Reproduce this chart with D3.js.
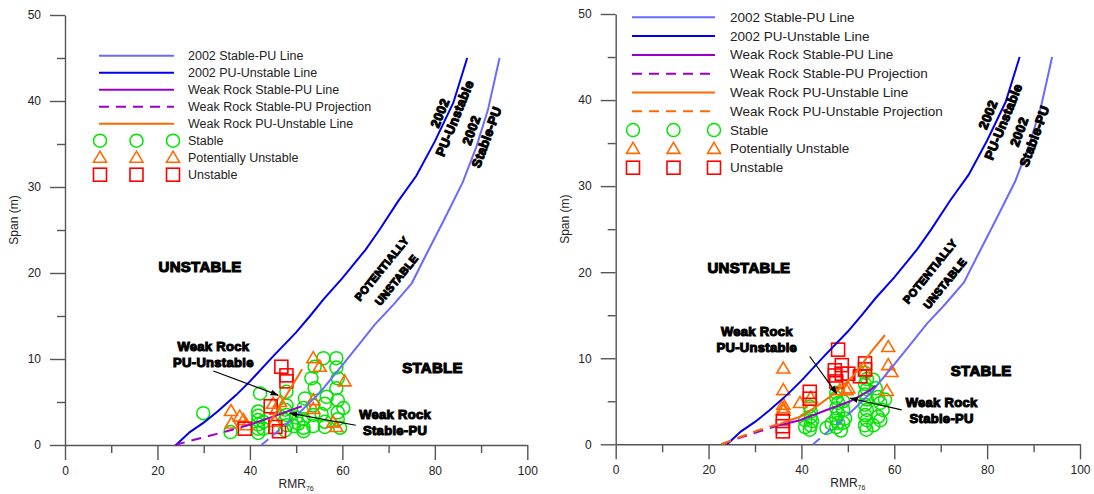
<!DOCTYPE html>
<html><head><meta charset="utf-8">
<script src="https://cdn.jsdelivr.net/npm/d3@7"></script>
<style>
body{margin:0;background:#fff}
svg{display:block}
text{font-family:"Liberation Sans",Arial,sans-serif}
</style>
</head><body>
<svg id="c" width="1094" height="494"></svg>
<script>
// ---------- data ----------
const xMajorTicks = [0,20,40,60,80,100];
const xMinorTicks = [10,30,50,70,90];
const yMajorTicks = [0,10,20,30,40,50];
const yMinorTicks = [5,15,25,35,45];

// 2002 design lines (RMR76, span m)
const pu2002 = [[24,0],[27,1.5],[30,2.6],[33,3.9],[37,5.8],[40,7.4],[45,10.3],[50,13.1],[53,15],[56,17],[60,19.4],[65,22.7],[68,25],[72,28.3],[76,31.3],[80,35.3],[84,39.8],[87,45]];
const sp2002Proj = [[42.5,0],[46,1.6],[50,3.4]];
const sp2002 = [[50,3.4],[55,6],[60,9.3],[63,11.3],[67,14],[71,16.3],[75,18.8],[78,22],[82,26.2],[86,30.5],[89,34.7],[91.5,39],[94,45]];

// Left chart weak rock lines
const leftWrSpProj = [[23.8,0],[30,0.9],[35,1.6],[39.6,2.3]];
const leftWrSp = [[39.6,2.3],[45,3.3],[51.2,4.5]];
const leftWrPu = [[44.5,2.8],[51.3,8.8]];

// Right chart weak rock lines
const rightWrSpProj = [[22.8,0],[27,0.8],[31,1.5],[35.4,2.25]];
const rightWrSp = [[35.4,2.25],[39.7,2.8],[45,3.9],[50.5,5],[54.8,6.3],[56,6.8]];
const rightWrPuProj = [[22.8,0],[27,0.9],[31,1.7],[35.4,2.4]];
const rightWrPu = [[35.4,2.4],[39.7,3.2],[43,4.3],[47.1,5.9],[51.1,7.9],[55.1,10.8],[58,12.7]];

// Left chart case histories
const leftStable = [[29.9,3.7],[35.8,1.5],[42.2,6.0],[41.8,3.9],[41.8,3.4],[41.8,2.9],[41.8,2.4],[41.8,1.9],[41.8,1.4],[42.9,2.7],[42.9,1.9],
 [47.9,6.2],[47.9,4.6],[47.6,4.1],[47.9,3.5],[47.6,2.9],[47.9,2.3],[47.6,1.7],[49.5,2.2],[50,3.2],
 [51.9,5.4],[51.6,4.3],[51.6,3.0],[51.6,2.0],[51.6,1.6],[50.5,2.5],
 [54,9.1],[53.3,7.75],[54,6.6],[53.7,4.6],[53.7,3.5],[53.7,2.2],
 [55.9,10.1],[56.6,5.6],[56.2,4.8],[55.5,3.6],[56.2,2.7],[56.2,2.1],
 [58.7,10.1],[58.7,9.0],[59,7.75],[58.7,6.6],[59,5.2],[60.2,4.3],[59,3.8],[59,3.0],[59.5,2.0]];
const leftPU = [[35.9,3.95],[37.8,3.3],[38.6,2.9],[39.3,2.3],[36,2.5],[45,4.8],[45.7,4.1],[45.4,2.7],[46.5,5.0],
 [53.7,10.1],[55.1,9.1],[60.5,7.4],[53.7,5.2],[53.7,4.2],[58,2.6],[58.7,2.1]];
const leftUnstable = [[46.8,9.1],[47.9,8.1],[47.9,7.4],[44.5,4.5],[46.3,1.6],[38.9,1.9],[45.5,2.1]];

// Right chart case histories
const rightStable = [[41.8,4.4],[42,3.8],[42,3.2],[42.3,2.7],[42,2.2],[41.8,1.7],[40.8,2.8],[40.8,2.0],
 [47.5,6.0],[47.5,5.4],[47.9,4.8],[47.5,4.2],[47.9,3.6],[47.5,3.0],[47.9,2.5],[47.5,2.0],[45.4,1.9],[46.5,2.4],
 [49,5.0],[49,4.0],[49.4,3.0],[49,2.5],[48.5,1.6],
 [53.7,8.3],[54.1,7.6],[53.7,7.0],[54.1,6.4],[53.7,5.8],[54.1,5.2],[53.7,4.6],[54.1,4.0],[53.7,3.4],[54.1,2.8],[53.7,2.2],[54,1.7],
 [55.5,7.5],[56,6.5],[56.5,5.5],[57,4.8],[57.5,4.0],[56.5,3.2],[57,2.8],[58,5.2],[55.5,2.2]];
const rightPU = [[36.1,8.8],[36.1,6.3],[36.1,4.6],[36.1,4.2],[36.1,3.9],[39.7,4.8],[42,5.4],[48.3,6.3],[49.7,6.3],[50.1,6.5],
 [53.7,8.5],[58.7,11.3],[58.7,9.2],[59.4,8.4],[58.4,6.2]];
const rightUnstable = [[36,2.7],[36,2.1],[36,1.5],[41.8,6.1],[41.8,5.3],[47.9,11.0],[48.7,9.2],[47.2,8.6],[47.2,8.0],[48.7,8.2],
 [50.1,8.2],[53.7,9.4],[53.7,8.7],[52.6,7.9],[47.5,7.3]];

const leftLegendLabels = ["2002 Stable-PU Line","2002 PU-Unstable Line","Weak Rock Stable-PU Line","Weak Rock Stable-PU Projection","Weak Rock PU-Unstable Line"];
const rightLegendLabels = ["2002 Stable-PU Line","2002 PU-Unstable Line","Weak Rock Stable-PU Line","Weak Rock Stable-PU Projection","Weak Rock PU-Unstable Line","Weak Rock PU-Unstable Projection"];
const markerLabels = ["Stable","Potentially Unstable","Unstable"];

// ---------- styles ----------
const C = {
  sp: "#6a6aff", pu: "#0000ee", purple: "#9900cc", orange: "#ff6a00",
  green: "#00e600", red: "#ff0000", tri: "#ff6a00", axis: "#555"
};
const lineStyles = {
  "2002 Stable-PU Line": {c:C.sp, dash:null},
  "2002 PU-Unstable Line": {c:C.pu, dash:null},
  "Weak Rock Stable-PU Line": {c:C.purple, dash:null},
  "Weak Rock Stable-PU Projection": {c:C.purple, dash:"10,7"},
  "Weak Rock PU-Unstable Line": {c:C.orange, dash:null},
  "Weak Rock PU-Unstable Projection": {c:C.orange, dash:"10,7"}
};

const svg = d3.select("#c");
const defs = svg.append("defs");
defs.append("marker").attr("id","arr").attr("viewBox","0 0 10 10").attr("refX",9).attr("refY",5)
  .attr("markerWidth",7).attr("markerHeight",7).attr("orient","auto-start-reverse")
  .append("path").attr("d","M0,1.5 L10,5 L0,8.5 Z").attr("fill","#000");

function drawMarker(g, type, px, py){
  if(type==="circle"){
    g.append("circle").attr("cx",px).attr("cy",py).attr("r",6.5)
      .attr("fill","none").attr("stroke",C.green).attr("stroke-width",1.5);
  } else if(type==="tri"){
    g.append("path").attr("d",`M${px},${py-6.5} L${px+6.5},${py+4.5} L${px-6.5},${py+4.5} Z`)
      .attr("fill","none").attr("stroke",C.tri).attr("stroke-width",1.6);
  } else {
    g.append("rect").attr("x",px-6.5).attr("y",py-6.5).attr("width",13).attr("height",13)
      .attr("fill","none").attr("stroke",C.red).attr("stroke-width",1.6);
  }
}

function boldLabel(g, txt, px, py, size, rot){
  const t = g.append("text").attr("x",px).attr("y",py)
    .attr("text-anchor","middle").attr("dominant-baseline","central")
    .attr("font-weight","bold").attr("font-size",size)
    .attr("stroke","#000").attr("stroke-width",1.1).attr("fill","#000")
    .attr("letter-spacing",0.3)
    .text(txt);
  if(rot) t.attr("transform",`rotate(${rot},${px},${py})`);
  return t;
}

function drawPanel(o){
  const g = svg.append("g");
  const x = d3.scaleLinear().domain([0,100]).range(o.xr);
  const y = d3.scaleLinear().domain([0,50]).range(o.yr);
  const line = d3.line().x(d=>x(d[0])).y(d=>y(d[1]));

  // axes
  const ax = g.append("g").attr("transform",`translate(0,${o.yr[0]})`);
  ax.call(d3.axisBottom(x).tickValues(xMajorTicks).tickSize(15).tickSizeOuter(0).tickPadding(6));
  const axm = g.append("g").attr("transform",`translate(0,${o.yr[0]})`);
  axm.call(d3.axisBottom(x).tickValues(xMinorTicks).tickSize(8).tickFormat(""));
  axm.select(".domain").remove();
  const ay = g.append("g").attr("transform",`translate(${o.xr[0]},0)`);
  ay.call(d3.axisLeft(y).tickValues(yMajorTicks).tickSize(15).tickSizeOuter(0).tickPadding(9));
  const aym = g.append("g").attr("transform",`translate(${o.xr[0]},0)`);
  aym.call(d3.axisLeft(y).tickValues(yMinorTicks).tickSize(8).tickFormat(""));
  aym.select(".domain").remove();
  g.selectAll(".domain, .tick line").attr("stroke",C.axis).attr("stroke-width",1.4);
  g.selectAll(".tick text").attr("font-size",12).attr("fill","#222").attr("font-family","Liberation Sans, Arial, sans-serif");

  // axis titles
  const xt = g.append("text").attr("x",(o.xr[0]+o.xr[1])/2).attr("y",o.yr[0]+43)
    .attr("text-anchor","middle").attr("font-size",12).attr("fill","#222");
  xt.append("tspan").text("RMR");
  xt.append("tspan").text("76").attr("font-size",7).attr("dy",2.5);
  g.append("text").attr("transform",`translate(${o.xr[0]-47},${(o.yr[0]+o.yr[1])/2-10}) rotate(-90)`)
    .attr("text-anchor","middle").attr("font-size",12).attr("fill","#222").text("Span (m)");

  // points
  const pg = g.append("g");
  o.stable.forEach(d=>drawMarker(pg,"circle",x(d[0]),y(d[1])));
  o.pu.forEach(d=>drawMarker(pg,"tri",x(d[0]),y(d[1])));
  o.unstable.forEach(d=>drawMarker(pg,"sq",x(d[0]),y(d[1])));

  // lines
  const L = (data,c,dash)=>{
    const p = g.append("path").datum(data).attr("d",line).attr("fill","none")
      .attr("stroke",c).attr("stroke-width",2);
    if(dash) p.attr("stroke-dasharray",dash);
  };
  L(sp2002Proj,C.sp,"9,6");
  L(sp2002,C.sp);
  L(pu2002,C.pu);
  o.lines.forEach(l=>L(l.data,l.c,l.dash));

  // annotations
  const a = o.ann;
  boldLabel(g,"UNSTABLE",x(a.unst[0]),y(a.unst[1]),15);
  boldLabel(g,"STABLE",x(a.stab[0]),y(a.stab[1]),15);
  boldLabel(g,"POTENTIALLY",x(a.pot1[0]),y(a.pot1[1]),11,-51);
  boldLabel(g,"UNSTABLE",x(a.pot2[0]),y(a.pot2[1]),11,-51);
  boldLabel(g,"2002",x(a.pu1[0]),y(a.pu1[1]),13,-68);
  boldLabel(g,"PU-Unstable",x(a.pu2[0]),y(a.pu2[1]),13,-68);
  boldLabel(g,"2002",x(a.sp1[0]),y(a.sp1[1]),13,-70);
  boldLabel(g,"Stable-PU",x(a.sp2[0]),y(a.sp2[1]),13,-70);
  boldLabel(g,"Weak Rock",x(a.wpu[0]),y(a.wpu[1]),13);
  boldLabel(g,"PU-Unstable",x(a.wpu[0]),y(a.wpu[1])+16,13);
  boldLabel(g,"Weak Rock",x(a.wsp[0]),y(a.wsp[1]),13);
  boldLabel(g,"Stable-PU",x(a.wsp[0]),y(a.wsp[1])+15.5,13);
  [a.arrPU,a.arrSP].forEach(ar=>{
    g.append("line").attr("x1",x(ar[0])).attr("y1",y(ar[1])).attr("x2",x(ar[2])).attr("y2",y(ar[3]))
      .attr("stroke","#000").attr("stroke-width",1.2).attr("marker-end","url(#arr)");
  });

  // legend
  const lg = g.append("g");
  const lx0 = o.leg.x, lw = o.leg.w, tx = o.leg.tx;
  let yy = o.leg.y;
  o.legLabels.forEach(lab=>{
    const s = lineStyles[lab];
    const ln = lg.append("line").attr("x1",lx0).attr("x2",lx0+lw).attr("y1",yy).attr("y2",yy)
      .attr("stroke",s.c).attr("stroke-width",2);
    if(s.dash) ln.attr("stroke-dasharray",s.dash);
    lg.append("text").attr("x",tx).attr("y",yy).attr("dominant-baseline","central")
      .attr("font-size",o.leg.fs).attr("fill","#222").text(lab);
    yy += o.leg.dy;
  });
  const types = ["circle","tri","sq"];
  markerLabels.forEach((lab,i)=>{
    [0,0.5,1].forEach(f=>drawMarker(lg,types[i],lx0+1+f*(lw-2),yy));
    lg.append("text").attr("x",tx).attr("y",yy).attr("dominant-baseline","central")
      .attr("font-size",o.leg.fs).attr("fill","#222").text(lab);
    yy += o.leg.dy;
  });
}

drawPanel({
  xr:[65,527.3], yr:[445,15],
  stable:leftStable, pu:leftPU, unstable:leftUnstable,
  lines:[{data:leftWrSpProj,c:C.purple,dash:"10,7"},{data:leftWrSp,c:C.purple},{data:leftWrPu,c:C.orange}],
  legLabels:leftLegendLabels,
  leg:{x:99,w:75,tx:188,y:55.7,dy:17,fs:12.5},
  ann:{unst:[29.2,20.8],stab:[79.5,9.0],pot1:[68.5,20.5],pot2:[71.7,19.2],
       pu1:[81.1,38.6],pu2:[84.3,38.0],sp1:[87.9,36.6],sp2:[91.2,35.8],
       wpu:[32.1,11.5],wsp:[71.4,3.5],
       arrPU:[32.1,8.6,46.1,5.8],arrSP:[62.9,2.3,48.6,3.7]}
});
drawPanel({
  xr:[615.7,1080], yr:[444.3,14],
  stable:rightStable, pu:rightPU, unstable:rightUnstable,
  lines:[{data:rightWrSpProj,c:C.purple,dash:"10,7"},{data:rightWrSp,c:C.purple},
         {data:rightWrPuProj,c:C.orange,dash:"10,7"},{data:rightWrPu,c:C.orange}],
  legLabels:rightLegendLabels,
  leg:{x:632,w:83,tx:730,y:17.3,dy:18.8,fs:13.5},
  ann:{unst:[28.7,20.5],stab:[78.7,8.6],pot1:[67.7,20.1],pot2:[70.9,18.7],
       pu1:[80.2,38.3],pu2:[83.5,37.5],sp1:[86.9,36.3],sp2:[90.2,35.8],
       wpu:[30.4,13.1],wsp:[70.2,4.8],
       arrPU:[41.8,10.2,47.6,5.9],arrSP:[61.6,4.0,50.5,5.35]}
});
</script>
</body></html>
